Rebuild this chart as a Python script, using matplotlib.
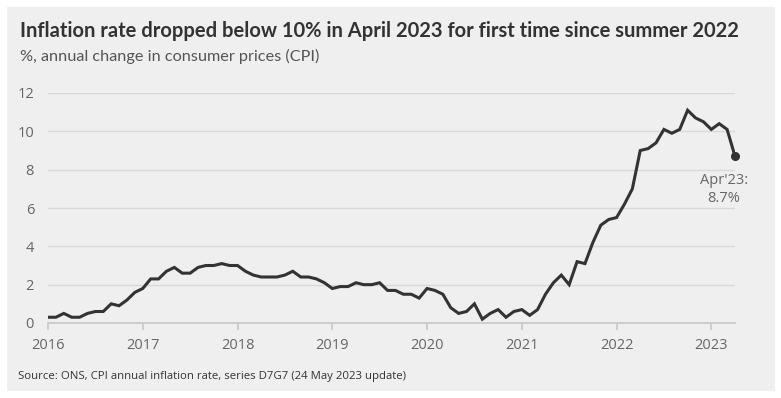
import numpy as np
import matplotlib
matplotlib.use("Agg")
import matplotlib.pyplot as plt
from matplotlib.patches import Rectangle

# UK CPI annual rate, monthly, Jan 2016 - Apr 2023
cpi_2016 = [0.3, 0.3, 0.5, 0.3, 0.3, 0.5, 0.6, 0.6, 1.0, 0.9, 1.2, 1.6]
cpi_2017 = [1.8, 2.3, 2.3, 2.7, 2.9, 2.6, 2.6, 2.9, 3.0, 3.0, 3.1, 3.0]
cpi_2018 = [3.0, 2.7, 2.5, 2.4, 2.4, 2.4, 2.5, 2.7, 2.4, 2.4, 2.3, 2.1]
cpi_2019 = [1.8, 1.9, 1.9, 2.1, 2.0, 2.0, 2.1, 1.7, 1.7, 1.5, 1.5, 1.3]
cpi_2020 = [1.8, 1.7, 1.5, 0.8, 0.5, 0.6, 1.0, 0.2, 0.5, 0.7, 0.3, 0.6]
cpi_2021 = [0.7, 0.4, 0.7, 1.5, 2.1, 2.5, 2.0, 3.2, 3.1, 4.2, 5.1, 5.4]
cpi_2022 = [5.5, 6.2, 7.0, 9.0, 9.1, 9.4, 10.1, 9.9, 10.1, 11.1, 10.7, 10.5]
cpi_2023 = [10.1, 10.4, 10.1, 8.7]

years = [2016, 2017, 2018, 2019, 2020, 2021, 2022, 2023]
yticks = [0, 2, 4, 6, 8, 10, 12]

cpi = cpi_2016 + cpi_2017 + cpi_2018 + cpi_2019 + cpi_2020 + cpi_2021 + cpi_2022 + cpi_2023
t = 2016 + np.arange(len(cpi)) / 12

W, H = 781, 398
fig = plt.figure(figsize=(W / 100, H / 100), dpi=100)
fig.patch.set_facecolor('white')
fig.patches.append(Rectangle((7 / W, 1 - 391 / H), 768 / W, 384 / H,
                             transform=fig.transFigure, facecolor='#efefef',
                             edgecolor='none', zorder=-5))

ax = fig.add_axes([48 / W, 1 - 323 / H, (735 - 48) / W, (323 - 93) / H])
ax.set_zorder(2)
ax.set_facecolor('none')
ax.plot(t, cpi, color='#333333', lw=2.2, solid_joinstyle='miter', zorder=3)
ax.plot(t[-1], cpi[-1], 'o', color='#333333', ms=5.5, zorder=4, clip_on=False)

ax.set_xlim(2016, t[-1])
ax.set_ylim(0, 12)
ax.set_yticks(yticks)
ax.set_xticks(years)
ax.set_xticklabels([str(y) for y in years])
ax.grid(axis='y', color='#d9d9d9', lw=1)
ax.set_axisbelow(True)
for s in ['top', 'right', 'left']:
    ax.spines[s].set_visible(False)
ax.spines['bottom'].set_color('#c8c8c8')
ax.spines['bottom'].set_linewidth(1.2)
ax.tick_params(axis='y', length=0, pad=10, labelsize=10.5, labelcolor='#666666',
               labelfontfamily='Open Sans')
ax.tick_params(axis='x', length=5, color='#c8c8c8', width=1.2, pad=6,
               labelsize=10.5, labelcolor='#666666', labelfontfamily='Open Sans')

ax.annotate("Apr'23:\n8.7%", xy=(t[-1], cpi[-1]), xytext=(-8, -12),
            textcoords='offset points', ha='center', va='top',
            fontsize=10.5, color='#666666', family='Open Sans', linespacing=1.3)

fig.text(20 / W, 1 - 31 / H,
         'Inflation rate dropped below 10% in April 2023 for first time since summer 2022',
         fontsize=14.5, fontweight='bold', color='#333333', family='Lato', va='center')
fig.text(20 / W, 1 - 56 / H, '%, annual change in consumer prices (CPI)',
         fontsize=11.7, color='#555555', family='Lato', va='center')
fig.text(18 / W, 1 - 376 / H,
         'Source: ONS, CPI annual inflation rate, series D7G7 (24 May 2023 update)',
         fontsize=8.2, color='#333333', family='Open Sans', va='center')

fig.savefig('out.png', dpi=100)
